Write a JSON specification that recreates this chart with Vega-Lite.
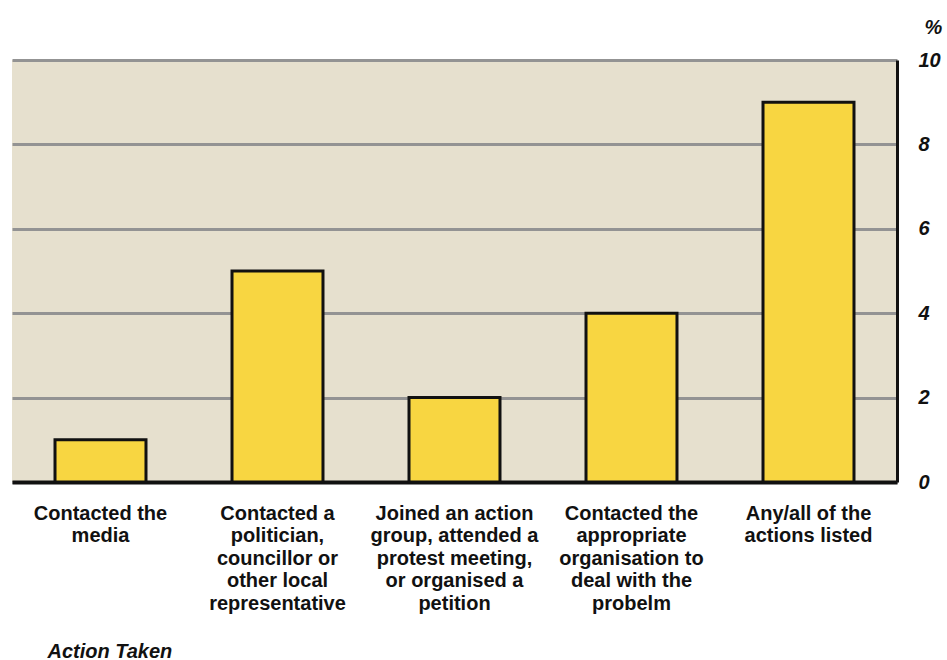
{
  "$schema": "https://vega.github.io/schema/vega-lite/v6.json",
  "width": 885,
  "height": 422,
  "autosize": {"type": "none"},
  "padding": {"left": 12, "top": 60, "right": 50, "bottom": 178},
  "background": "white",
  "config": {
    "font": "Liberation Sans",
    "view": {"fill": "#E6E0CE", "stroke": null}
  },
  "data": {
    "values": [
      {"action": "Contacted the\nmedia", "pct": 1},
      {"action": "Contacted a\npolitician,\ncouncillor or\nother local\nrepresentative", "pct": 5},
      {"action": "Joined an action\ngroup, attended a\nprotest meeting,\nor organised a\npetition", "pct": 2},
      {"action": "Contacted the\nappropriate\norganisation to\ndeal with the\nprobelm", "pct": 4},
      {"action": "Any/all of the\nactions listed", "pct": 9}
    ]
  },
  "mark": {"type": "bar", "fill": "#F8D641", "stroke": "#111111", "strokeWidth": 3},
  "encoding": {
    "x": {
      "field": "action",
      "type": "nominal",
      "sort": null,
      "scale": {"paddingInner": 0.486, "paddingOuter": 0.243},
      "axis": {
        "labelAngle": 0,
        "labelExpr": "split(datum.value, '\\n')",
        "labelFont": "Liberation Sans",
        "labelFontWeight": "bold",
        "labelFontSize": 20,
        "labelLineHeight": 22.6,
        "labelColor": "#111111",
        "labelPadding": 21,
        "labelAlign": "center",
        "labelBaseline": "top",
        "labelLimit": 300,
        "ticks": false,
        "domainColor": "#111111",
        "domainWidth": 4,
        "title": "Action Taken",
        "titleFont": "Liberation Sans",
        "titleFontWeight": "bold",
        "titleFontStyle": "italic",
        "titleFontSize": 20,
        "titleColor": "#111111",
        "titleAnchor": "start",
        "titleAlign": "left",
        "titleX": 35,
        "titleY": 175,
        "titleBaseline": "alphabetic"
      }
    },
    "y": {
      "field": "pct",
      "type": "quantitative",
      "scale": {"domain": [0, 10], "nice": false},
      "axis": {
        "orient": "right",
        "values": [0, 2, 4, 6, 8, 10],
        "grid": true,
        "gridColor": "#939393",
        "gridWidth": 3,
        "ticks": false,
        "domainColor": "#111111",
        "domainWidth": 3,
        "labelFont": "Liberation Sans",
        "labelFontWeight": "bold",
        "labelFontStyle": "italic",
        "labelFontSize": 20,
        "labelColor": "#111111",
        "labelAlign": "left",
        "labelPadding": 21,
        "labelFlush": false,
        "title": "%",
        "titleAngle": 0,
        "titleFont": "Liberation Sans",
        "titleFontWeight": "bold",
        "titleFontStyle": "italic",
        "titleFontSize": 20,
        "titleColor": "#111111",
        "titleX": 36,
        "titleY": -33,
        "titleAlign": "center",
        "titleBaseline": "middle"
      }
    }
  }
}
